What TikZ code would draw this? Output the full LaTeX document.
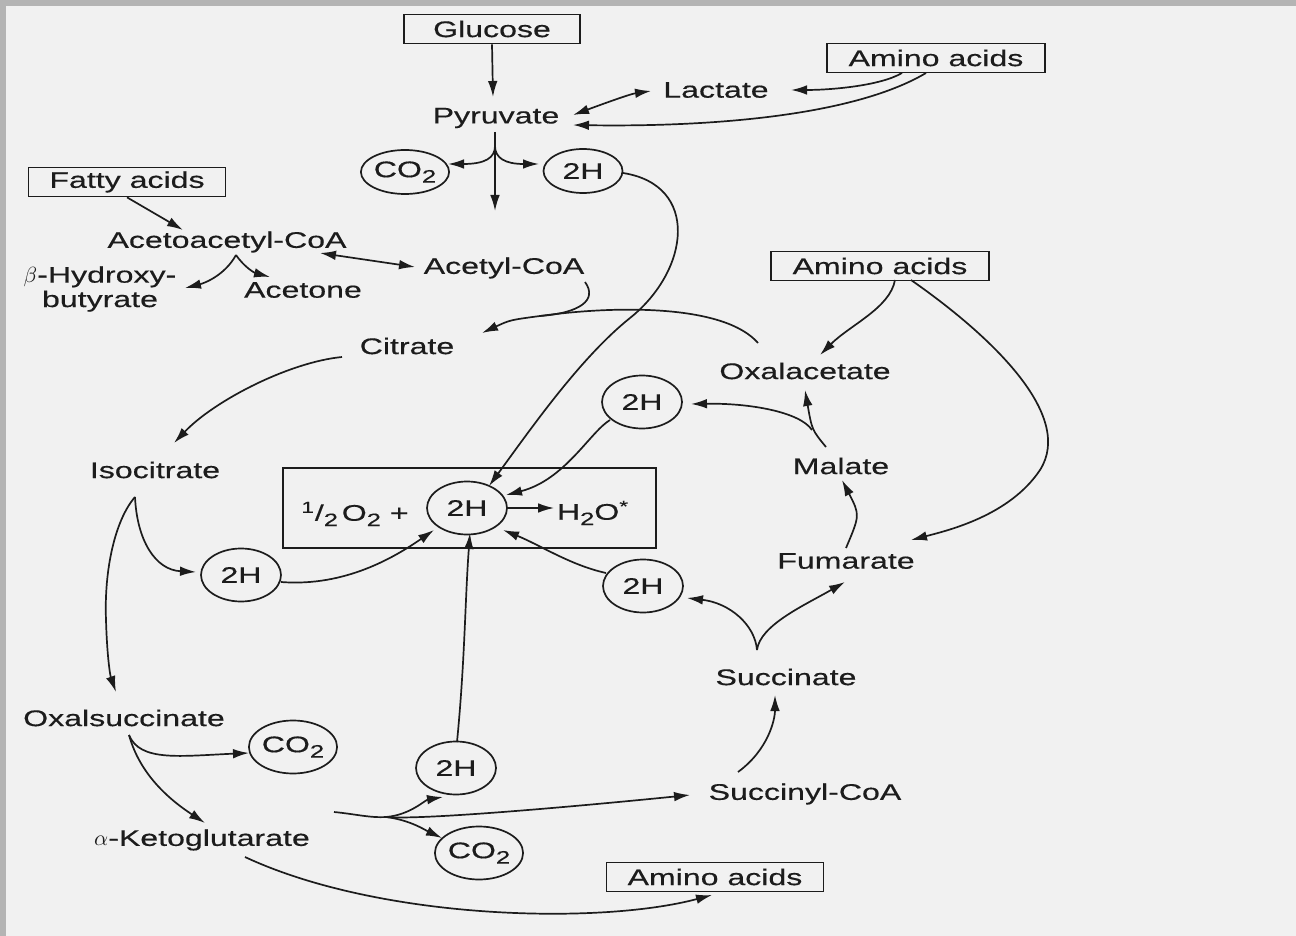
\documentclass[tikz,border=0pt]{standalone}
\usepackage{fontspec}
\setmainfont{Liberation Sans}[FakeStretch=1.42,FakeBold=0.4]
\usepackage{tikz}
\usetikzlibrary{shapes,arrows.meta,positioning,calc}
\definecolor{scanpage}{HTML}{F1F1F1}
\definecolor{scanedge}{HTML}{B4B4B4}
\definecolor{ink}{HTML}{1C1C1C}
\newcommand{\lowtwo}{\raisebox{-0.45ex}{\fontsize{9}{9}\selectfont 2}}

\begin{document}
\begin{tikzpicture}[x=0.5pt,y=-0.5pt,>={Latex[length=8pt,width=4.8pt]},line width=0.85pt,color=ink,
    font=\fontsize{11.3}{12.2}\selectfont,
    met/.style={inner sep=1pt},
    srcbox/.style={draw,rectangle,inner sep=0pt,minimum height=14.5pt},
    cof/.style={draw,ellipse,inner sep=0pt,minimum width=40pt,minimum height=26.5pt},
    cofsm/.style={cof,minimum width=39.5pt,minimum height=22pt}]
        \fill[scanedge] (0,0) rectangle (1296,936);
        \fill[scanpage] (6,6) rectangle (1296,936);
        \useasboundingbox (0,0) rectangle (1296,936);

        \node (glucose) [srcbox,minimum width=88pt] at (492,29) {Glucose};
        \node (amino1) [srcbox,minimum width=109pt] at (936,58) {Amino acids};
        \node (lactate) [met] at (716,90) {Lactate};
        \node (pyruvate) [met] at (496,118) {Pyruvate};
        \node (co2a) [cofsm] at (405,172) {CO\lowtwo};
        \node (h2a) [cofsm] at (583,171) {2H};
        \node (fatty) [srcbox,minimum width=98.5pt] at (127,182) {Fatty acids};
        \node (acetoacetyl) [met] at (227,242) {Acetoacetyl-CoA};
        \node (hydroxy) [met,align=center] at (100,289) {$\beta$-Hydroxy-\\butyrate};
        \node (acetone) [met] at (303,290) {Acetone};
        \node (acetylcoa) [met] at (504,268) {Acetyl-CoA};
        \node (amino2) [srcbox,minimum width=109pt] at (880,266) {Amino acids};
        \node (citrate) [met] at (407,346) {Citrate};
        \node (oxalacetate) [met] at (805,371) {Oxalacetate};
        \node (h2b) [cof] at (642,402) {2H};
        \node (isocitrate) [met] at (155,470) {Isocitrate};
        \node (malate) [met] at (841,466) {Malate};
        \node (chainbox) [draw,inner sep=0pt,minimum width=186.5pt,minimum height=40pt] at (469.5,508) {};
        \node (halfo) [met] at (355,514) {\textsuperscript{1}/\lowtwo\,O\lowtwo\ +};
        \node (h2c) [cof] at (467,508) {2H};
        \node (water) [met] at (593,513) {H\lowtwo O\textsuperscript{*}};
        \node (fumarate) [met] at (846,561) {Fumarate};
        \node (h2d) [cof] at (241,575) {2H};
        \node (h2e) [cof] at (643,586) {2H};
        \node (succinate) [met] at (786,677) {Succinate};
        \node (oxalsucc) [met] at (124,718) {Oxalsuccinate};
        \node (co2b) [cof] at (293,747) {CO\lowtwo};
        \node (h2f) [cof] at (456,768) {2H};
        \node (succoa) [met] at (805,794) {Succinyl-CoA};
        \node (ketoglu) [met] at (202,840) {$\alpha$-Ketoglutarate};
        \node (co2c) [cof] at (479,853) {CO\lowtwo};
        \node (amino3) [srcbox,minimum width=108.5pt] at (715,877) {Amino acids};

        \coordinate (pyrfork) at (495,146);
        \coordinate (pyrend) at (495,211);
        \coordinate (cjoin) at (540,316);
        \coordinate (isofork) at ($(isocitrate)+(-20,27)$);
        \coordinate (malfork) at (812,430);
        \coordinate (sucfork) at ($(succinate)+(-29,-27)$);
        \coordinate (ketofork) at (386,817);
        \coordinate (oxfork) at ($(oxalsucc)+(5,17)$);
        \coordinate (aafork) at ($(acetoacetyl)+(9,13)$);

        \draw[->] (glucose.south) -- ($(pyruvate)+(-3,-21)$);
        \draw[->] ($(pyruvate)+(-1,14)$) -- (pyrend);
        \draw[->] (pyrfork) .. controls (495,158) and (485,164) .. ($(co2a)+(43,-8)$);
        \draw[->] (pyrfork) .. controls (495,158) and (505,164) .. ($(h2a)+(-44,-7)$);
        \draw[<->] ($(pyruvate)+(77,-3)$) .. controls (600,105) and (630,94) .. ($(lactate)+(-65,1)$);
        \draw[->] ($(amino1)+(-34,15)$) .. controls (880,86) and (830,90) .. ($(lactate)+(75,0)$);
        \draw[->] ($(amino1)+(-10,15)$) .. controls (850,118) and (700,127) .. ($(pyruvate)+(77,7)$);

        \draw[->] (fatty.south) -- ($(acetoacetyl)+(-44,-12)$);
        \draw[->] (aafork) .. controls (225,275) and (205,283) .. ($(hydroxy)+(85,-1)$);
        \draw[->] (aafork) .. controls (245,268) and (255,273) .. ($(acetone)+(-33,-13)$);
        \draw[<->] ($(acetoacetyl)+(93,11)$) -- ($(acetylcoa)+(-89,-1)$);

        \draw ($(acetylcoa)+(81,14)$) .. controls (598,300) and (580,313) .. (cjoin);
        \draw ($(oxalacetate)+(-47,-28)$) .. controls (725,305) and (620,305) .. (cjoin);
        \draw[->] (cjoin) .. controls (510,320) .. ($(citrate)+(75,-13)$);
        \draw[->] ($(h2a)+(40,2)$) .. controls (700,185) and (690,270) .. (630,318)
            .. controls (580,358) and (530,430) .. ($(h2c)+(22,-22)$);

        \draw[->] ($(citrate)+(-65,11)$) .. controls (290,362) and (215,400) .. ($(isocitrate)+(19,-27)$);
        \draw[->] (isofork) .. controls (115,520) and (104,570) .. (106,620)
            .. controls (107,655) and (110,675) .. ($(oxalsucc)+(-8,-26)$);
        \draw[->] (isofork) .. controls (137,540) and (155,570) .. ($(h2d)+(-45,-3)$);
        \draw[->] ($(h2d)+(40,7)$) .. controls (345,587) and (395,557) .. ($(h2c)+(-33,22)$);
        \draw[->] ($(h2b)+(-32,18)$) .. controls (590,432) and (565,480) .. ($(h2c)+(39,-13)$);
        \draw[->] ($(h2e)+(-37,-13)$) .. controls (570,565) and (540,545) .. ($(h2c)+(36,22)$);
        \draw[->] ($(h2f)+(1,-26)$) .. controls (465,660) and (465,600) .. ($(h2c)+(3,25)$);
        \draw[->] (h2c.east) -- (h2c.east -| water.west);

        \draw[->] ($(amino2)+(15,14)$) .. controls (890,308) and (850,325) .. ($(oxalacetate)+(15,-16)$);
        \draw[->] ($(amino2)+(31,14)$) .. controls (990,335) and (1075,415) .. (1040,470)
            .. controls (1010,515) and (950,530) .. ($(fumarate)+(65,-21)$);
        \draw[->] ($(malate)+(-15,-19)$) .. controls (812,430) .. ($(oxalacetate)+(0,19)$);
        \draw[->] (malfork) .. controls (800,412) and (750,403) .. ($(h2b)+(49,2)$);
        \draw[->] ($(fumarate)+(0,-13)$) .. controls (860,515) .. ($(malate)+(1,14)$);
        \draw[->] (sucfork) .. controls (755,625) and (730,603) .. ($(h2e)+(44,12)$);
        \draw[->] (sucfork) .. controls (760,625) and (805,605) .. ($(fumarate)+(-1,21)$);
        \draw[->] ($(succoa)+(-67,-22)$) .. controls (768,750) and (775,720) .. ($(succinate)+(-11,18)$);

        \draw[->] (oxfork) .. controls (140,762) and (180,756) .. ($(co2b)+(-44,6)$);
        \draw[->] (oxfork) .. controls (140,775) and (170,800) .. ($(ketoglu)+(3,-17)$);
        \draw ($(ketoglu)+(132,-28)$) .. controls (355,814) and (370,818) .. (ketofork);
        \draw[->] (ketofork) .. controls (420,820) and (560,808) .. ($(succoa)+(-115,1)$);
        \draw[->] (ketofork) .. controls (410,815) and (425,800) .. ($(h2f)+(-13,29)$);
        \draw[->] (ketofork) .. controls (410,820) and (425,830) .. ($(co2c)+(-37,-15)$);
        \draw[->] ($(ketoglu)+(43,17)$) .. controls (380,920) and (600,925) .. ($(amino3)+(-3,18)$);
\end{tikzpicture}
\end{document}
